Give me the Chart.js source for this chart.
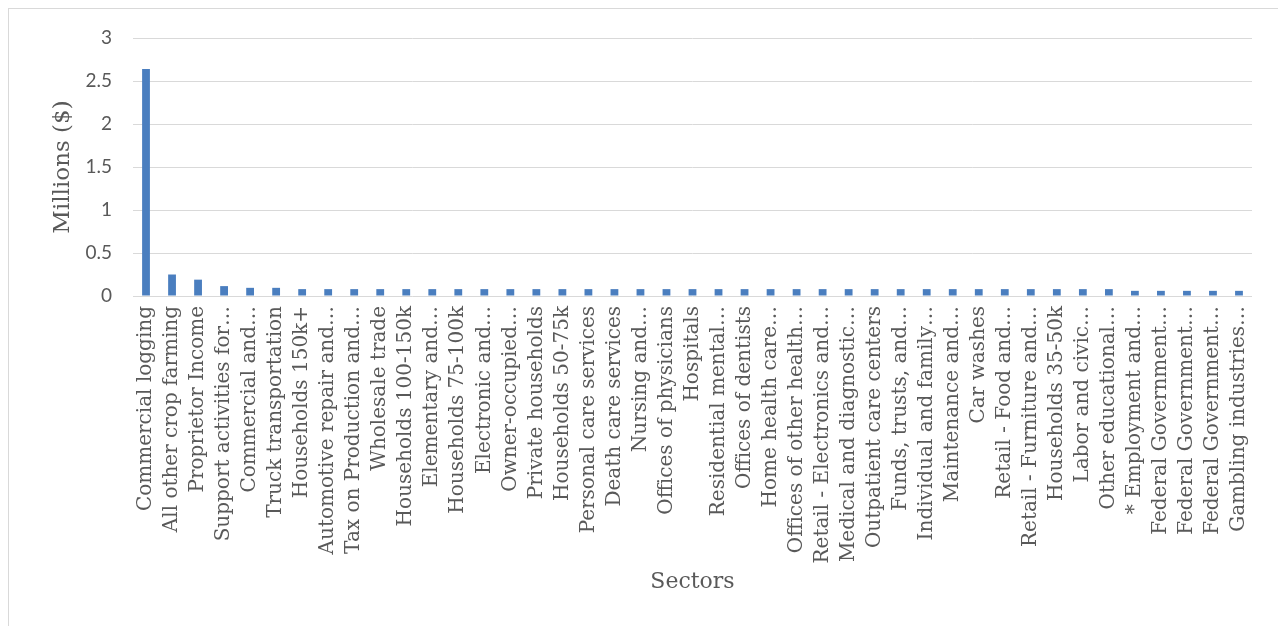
<!DOCTYPE html>
<html>
<head>
<meta charset="utf-8">
<title>Sectors</title>
<script src="https://cdn.jsdelivr.net/npm/chart.js@4.4.1/dist/chart.umd.min.js"></script>
<style>
  html, body { margin: 0; padding: 0; background: #fff; overflow: hidden; }
  #wrap { position: relative; width: 1278px; height: 626px; }
  #frame { position: absolute; left: 8px; top: 8px; width: 1300px; height: 700px;
           border-left: 1px solid #d9d9d9; border-top: 1px solid #d9d9d9; }
  canvas { position: absolute; left: 0; top: 0; }
</style>
</head>
<body>
<div id="wrap">
  <div id="frame"></div>
  <canvas id="chart" width="1278" height="626"></canvas>
</div>
<script>
// sector names (long ones cut short the way the axis shows them)
const sectors = [
  "Commercial logging",
  "All other crop farming",
  "Proprietor Income",
  "Support activities for…",
  "Commercial and…",
  "Truck transportation",
  "Households 150k+",
  "Automotive repair and…",
  "Tax on Production and…",
  "Wholesale trade",
  "Households 100-150k",
  "Elementary and…",
  "Households 75-100k",
  "Electronic and…",
  "Owner-occupied…",
  "Private households",
  "Households 50-75k",
  "Personal care services",
  "Death care services",
  "Nursing and…",
  "Offices of physicians",
  "Hospitals",
  "Residential mental…",
  "Offices of dentists",
  "Home health care…",
  "Offices of other health…",
  "Retail - Electronics and…",
  "Medical and diagnostic…",
  "Outpatient care centers",
  "Funds, trusts, and…",
  "Individual and family…",
  "Maintenance and…",
  "Car washes",
  "Retail - Food and…",
  "Retail - Furniture and…",
  "Households 35-50k",
  "Labor and civic…",
  "Other educational…",
  "* Employment and…",
  "Federal Government…",
  "Federal Government…",
  "Federal Government…",
  "Gambling industries…"
];

// impact per sector, millions of dollars
const impact = [
  2.64, 0.25, 0.19, 0.115, 0.095, 0.095, 0.08, 0.08, 0.08, 0.08,
  0.08, 0.08, 0.08, 0.08, 0.08, 0.08, 0.08, 0.08, 0.08, 0.08,
  0.08, 0.08, 0.08, 0.08, 0.08, 0.08, 0.08, 0.08, 0.08, 0.08,
  0.08, 0.08, 0.08, 0.08, 0.08, 0.08, 0.08, 0.08, 0.06, 0.06,
  0.06, 0.06, 0.06
];

const yTicks = [0, 0.5, 1, 1.5, 2, 2.5, 3];

const grey = "#595959";
const serif = "'DejaVu Serif', serif";

new Chart(document.getElementById("chart"), {
  type: "bar",
  data: {
    labels: sectors,
    datasets: [{
      data: impact,
      backgroundColor: "#4a7ebf",
      barPercentage: 0.3,
      categoryPercentage: 1
    }]
  },
  options: {
    responsive: false,
    animation: false,
    devicePixelRatio: 1,
    layout: { padding: { top: 38, right: 26, left: 0, bottom: 0 } },
    plugins: { legend: { display: false }, tooltip: { enabled: false } },
    scales: {
      x: {
        grid: { display: false, drawTicks: false },
        border: { display: false },
        ticks: {
          autoSkip: false,
          minRotation: 90,
          maxRotation: 90,
          padding: 10,
          color: grey,
          font: { family: serif, size: 20 }
        },
        title: {
          display: true,
          text: "Sectors",
          color: grey,
          font: { family: serif, size: 22 },
          padding: { top: 0, bottom: 31 }
        },
        afterFit: (s) => { s.height = 330; }
      },
      y: {
        min: 0,
        max: 3,
        afterBuildTicks: (s) => { s.ticks = yTicks.map(v => ({ value: v })); },
        grid: { color: "#d9d9d9", lineWidth: 1, drawTicks: false },
        border: { display: false },
        ticks: {
          padding: 21,
          color: grey,
          font: { family: "Lato, sans-serif", size: 19 },
          callback: (v) => String(v)
        },
        title: {
          display: true,
          text: "Millions ($)",
          color: grey,
          font: { family: serif, size: 23 },
          padding: { top: 49, bottom: 0 }
        },
        afterFit: (s) => { s.width = 133; }
      }
    }
  }
});
</script>
</body>
</html>
